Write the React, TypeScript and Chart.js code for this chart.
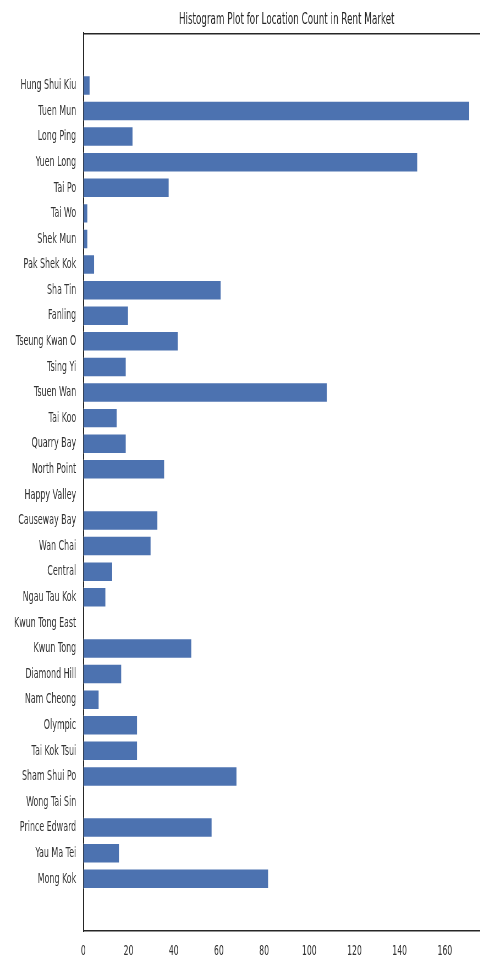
import React, { useEffect, useRef } from 'react';
import { Chart, registerables } from 'chart.js';

Chart.register(...registerables);

const categories = [
  'Hung Shui Kiu', 'Tuen Mun', 'Long Ping', 'Yuen Long', 'Tai Po', 'Tai Wo', 'Shek Mun',
  'Pak Shek Kok', 'Sha Tin', 'Fanling', 'Tseung Kwan O', 'Tsing Yi', 'Tsuen Wan', 'Tai Koo',
  'Quarry Bay', 'North Point', 'Happy Valley', 'Causeway Bay', 'Wan Chai', 'Central',
  'Ngau Tau Kok', 'Kwun Tong East', 'Kwun Tong', 'Diamond Hill', 'Nam Cheong', 'Olympic',
  'Tai Kok Tsui', 'Sham Shui Po', 'Wong Tai Sin', 'Prince Edward', 'Yau Ma Tei', 'Mong Kok',
];

const counts = [
  3, 171, 22, 148, 38, 2, 2,
  5, 61, 20, 42, 19, 108, 15,
  19, 36, 0, 33, 30, 13,
  10, 0, 48, 17, 7, 24,
  24, 68, 0, 57, 16, 82,
];

const xTickValues = [0, 20, 40, 60, 80, 100, 120, 140, 160];
const xMax = 180;
const titleText = 'Histogram Plot for Location Count in Rent Market';

const SQUEEZE = 0.55;
const CANVAS_W = 903;
const CANVAS_H = 958;
const CAT_PAD = 2.04;

export default function App() {
  const ref = useRef<HTMLCanvasElement>(null);

  useEffect(() => {
    if (!ref.current) return;
    Chart.defaults.font.family = "'DejaVu Sans', sans-serif";

    const framePlugin = {
      id: 'frame',
      afterLayout(chart: any) {
        const y = chart.scales.y;
        y._startValue = -CAT_PAD;
        y._valueRange = categories.length - 1 + 2 * CAT_PAD;
      },
      afterDraw(chart: any) {
        const { ctx, chartArea } = chart;
        ctx.save();
        ctx.strokeStyle = '#262626';
        ctx.lineWidth = 1.4;
        ctx.beginPath();
        ctx.moveTo(chartArea.left, chartArea.top + 0.5);
        ctx.lineTo(chartArea.right, chartArea.top + 0.5);
        ctx.stroke();
        ctx.restore();
      },
    };

    const chart = new Chart(ref.current, {
      type: 'bar',
      data: {
        labels: categories,
        datasets: [
          {
            data: counts,
            backgroundColor: '#4c72b0',
            borderColor: 'rgba(255,255,255,0.45)',
            borderWidth: 1,
            barPercentage: 0.8,
            categoryPercentage: 1,
          },
        ],
      },
      options: {
        indexAxis: 'y',
        responsive: false,
        animation: false,
        layout: { padding: 0, autoPadding: false },
        plugins: {
          legend: { display: false },
          tooltip: { enabled: false },
          title: {
            display: true,
            text: titleText,
            fullSize: false,
            color: '#262626',
            font: { size: 16, weight: 'normal' },
            padding: { top: 10, bottom: 4 },
          },
        },
        scales: {
          x: {
            type: 'linear',
            min: 0,
            max: xMax,
            afterFit: (s: any) => {
              s.height = 27;
            },
            grid: { display: false, drawTicks: false },
            border: { display: true, color: '#262626', width: 1.4 },
            ticks: {
              stepSize: 20,
              autoSkip: false,
              maxRotation: 0,
              padding: 12,
              color: '#333333',
              font: { size: 14 },
              callback: (v: any) => (xTickValues.includes(Number(v)) ? String(v) : ''),
            },
          },
          y: {
            afterFit: (s: any) => {
              s.width = 151.5;
            },
            grid: { display: false, drawTicks: false },
            border: { display: true, color: '#262626', width: 2 },
            ticks: {
              autoSkip: false,
              padding: 13,
              color: '#333333',
              font: { size: 14.4 },
            },
          },
        },
      },
      plugins: [framePlugin],
    } as any);

    return () => chart.destroy();
  }, []);

  return (
    <div
      style={{
        position: 'fixed',
        left: 0,
        top: 0,
        width: 480,
        height: 958,
        overflow: 'hidden',
        background: '#ffffff',
      }}
    >
      <div
        style={{
          width: CANVAS_W,
          height: CANVAS_H,
          transform: `scaleX(${SQUEEZE})`,
          transformOrigin: '0 0',
        }}
      >
        <canvas ref={ref} width={CANVAS_W} height={CANVAS_H} style={{ display: 'block' }} />
      </div>
    </div>
  );
}
